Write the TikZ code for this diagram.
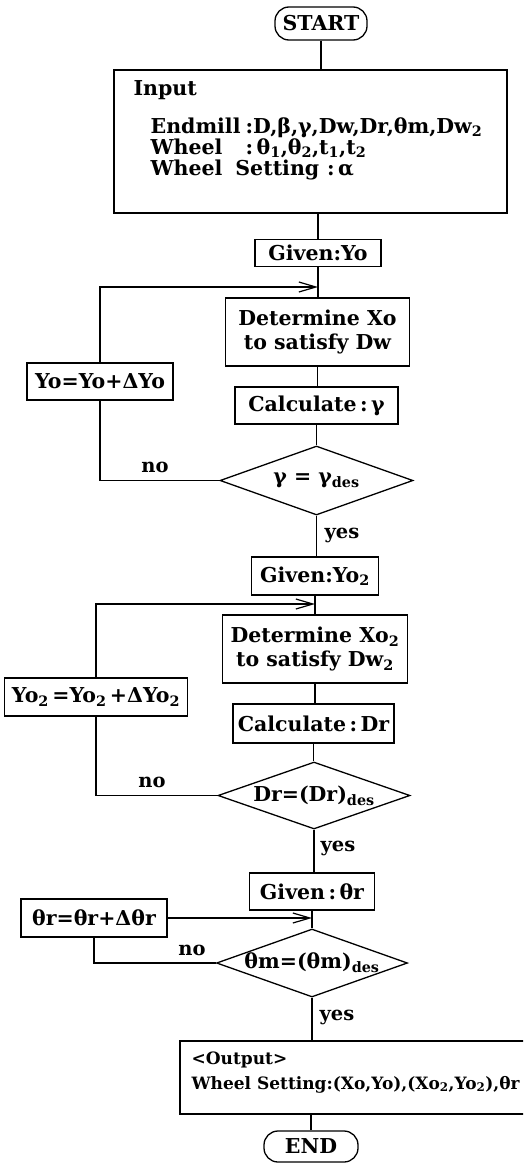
\documentclass[tikz,border=0pt]{standalone}
\usepackage{fontspec}
\setmainfont{DejaVu Serif}
\usetikzlibrary{arrows.meta,shapes.geometric}
\newcommand{\sbs}[1]{\textsubscript{#1}}
\begin{document}
\begin{tikzpicture}[x=1pt,y=-1pt,
  line width=1.3pt,
  every node/.style={font=\bfseries\fontsize{20.5}{24}\selectfont, inner sep=0pt},
  box/.style={draw, rectangle, align=center},
  term/.style={draw, rectangle, rounded corners=14pt},
  dec/.style={draw, diamond, aspect=2.8},
  lbl/.style={font=\bfseries\fontsize{19.5}{22}\selectfont},
  outtxt/.style={font=\bfseries\fontsize{17}{21}\selectfont, anchor=base west},
  intxt/.style={anchor=base west},
  loopar/.style={-{Straight Barb[length=17pt,width=10pt,line width=1.2pt]}}
]
\clip (0,0) rectangle (523,1164);
% terminals and boxes
\node[term, minimum width=92pt, minimum height=33pt] (start) at (321,23.5) {START};
\node[box, minimum width=393pt, minimum height=143pt] (input) at (310.5,141.5) {};
\node[intxt] (inlab) at (133,95) {Input};
\node[intxt] (em) at (150,133) {Endmill};
\node[intxt] (emv) at (245,133) {:D,β,γ,Dw,Dr,θm,Dw\sbs{2}};
\node[intxt] (wh) at (150,154) {Wheel};
\node[intxt] (whv) at (245,154) {:\,θ\sbs{1},θ\sbs{2},t\sbs{1},t\sbs{2}};
\node[intxt] (ws) at (150,175) {Wheel\hspace{13pt}Setting\hspace{8pt}:\,α};

\node[box, minimum width=126pt, minimum height=27pt] (given1) at (318,253) {Given:Yo};
\node[box, minimum width=184pt, minimum height=68pt] (det1) at (317.5,332) {Determine Xo\\to satisfy Dw};
\node[box, minimum width=163pt, minimum height=37pt] (calc1) at (316.5,405.5) {Calculate\,:\,γ};
\node[dec, minimum width=193pt, minimum height=69pt] (dia1) at (316.5,480.5) {γ = γ\sbs{des}};
\node[box, minimum width=146pt, minimum height=37pt] (upd1) at (100,381.5) {Yo=Yo+ΔYo};

\node[box, minimum width=127pt, minimum height=38pt] (given2) at (315,576) {Given:Yo\sbs{2}};
\node[box, minimum width=185pt, minimum height=68pt] (det2) at (315,649) {Determine Xo\sbs{2}\\to satisfy Dw\sbs{2}};
\node[box, minimum width=161pt, minimum height=39pt] (calc2) at (313.5,723.5) {Calculate\,:\,Dr};
\node[dec, minimum width=192pt, minimum height=67pt] (dia2) at (314,795.5) {Dr=(Dr)\sbs{des}};
\node[box, minimum width=183pt, minimum height=38pt] (upd2) at (96,697) {Yo\sbs{2}\,=Yo\sbs{2}\,+ΔYo\sbs{2}};

\node[box, minimum width=125pt, minimum height=37pt] (given3) at (312,891.5) {Given\,:\,θr};
\node[dec, minimum width=191pt, minimum height=68pt] (dia3) at (312,963) {θm=(θm)\sbs{des}};
\node[box, minimum width=146pt, minimum height=38pt] (upd3) at (94,918) {θr=θr+Δθr};

\node[box, minimum width=360pt, minimum height=73pt] (output) at (360,1077.5) {};
\node[outtxt] (outlab) at (191,1064) {<Output>};
\node[outtxt] (outval) at (191,1089) {Wheel Setting:(Xo,Yo),(Xo\sbs{2},Yo\sbs{2}),θr};
\node[term, minimum width=94pt, minimum height=31pt] (end) at (311,1146.5) {END};

% junction points for the loop arrows
\coordinate (j1) at (318,287);
\coordinate (j2) at (315,604);
\coordinate (j3) at (312,918);

% main flow
\draw (start.south) -- (start.south |- input.north);
\draw (given1.north |- input.south) -- (given1.north);
\draw (given1.south) -- (given1.south |- det1.north);
\draw (det1.south) -- (det1.south |- calc1.north);
\draw (calc1.south) -- (calc1.south |- dia1.north);
\draw (dia1.south) -- (dia1.south |- given2.north);
\draw (given2.south) -- (given2.south |- det2.north);
\draw (det2.south) -- (det2.south |- calc2.north);
\draw (calc2.south) -- (calc2.south |- dia2.north);
\draw (dia2.south) -- (dia2.south |- given3.north);
\draw (given3.south) -- (given3.south |- dia3.north);
\draw (dia3.south) -- (dia3.south |- output.north);
\draw (end.north |- output.south) -- (end.north);

% loops
\draw (dia1.west) -- (dia1.west -| upd1.south) -- (upd1.south);
\draw[loopar] (upd1.north) -- (upd1.north |- j1) -- (j1);
\draw (dia2.west) -- (dia2.west -| upd2.south) -- (upd2.south);
\draw[loopar] (upd2.north) -- (upd2.north |- j2) -- (j2);
\draw (dia3.west) -- (dia3.west -| upd3.south) -- (upd3.south);
\draw[loopar] (upd3.east) -- (j3);

% labels
\node[lbl] (no1) at (155,467) {no};
\node[lbl] (yes1) at (342,535) {yes};
\node[lbl] (no2) at (152,782) {no};
\node[lbl] (yes2) at (338,848) {yes};
\node[lbl] (no3) at (192,950) {no};
\node[lbl] (yes3) at (337,1017) {yes};
\end{tikzpicture}
\end{document}
